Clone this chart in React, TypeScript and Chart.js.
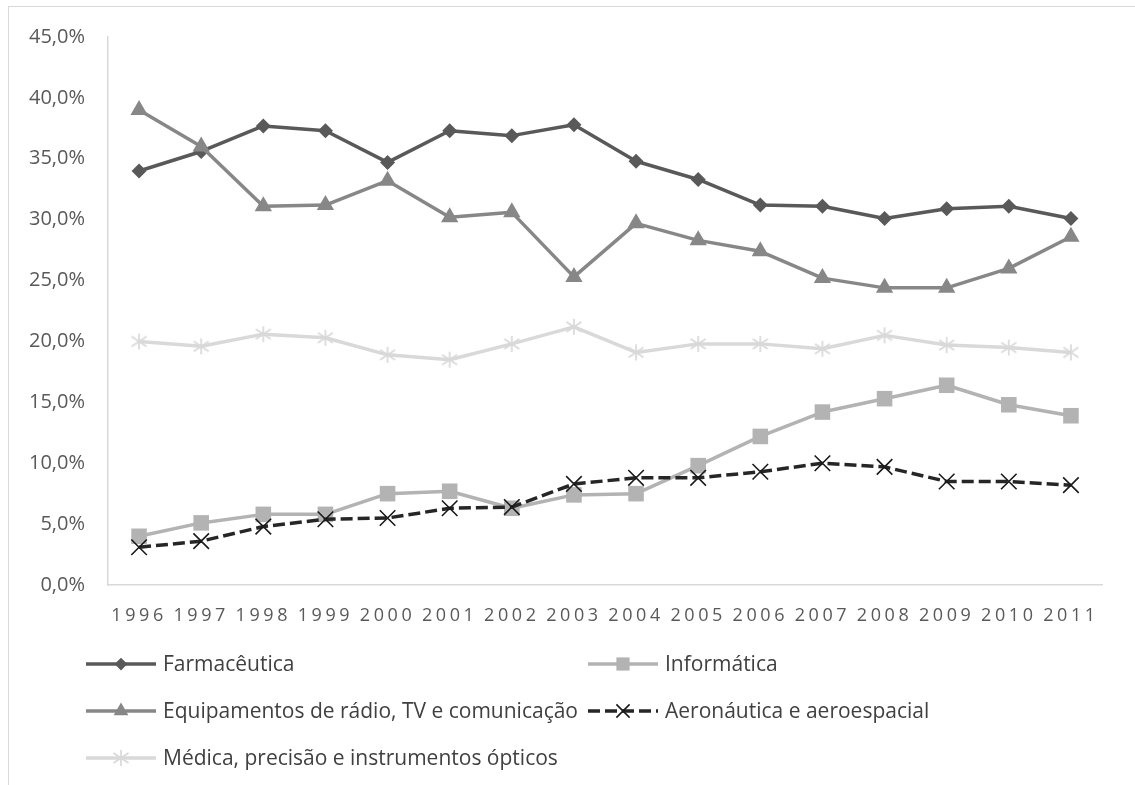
import React, { useEffect, useRef } from "react";
import { Chart, registerables } from "chart.js";
import { drawPoint } from "chart.js/helpers";

Chart.register(...registerables);

const years = ["1996", "1997", "1998", "1999", "2000", "2001", "2002", "2003", "2004", "2005", "2006", "2007", "2008", "2009", "2010", "2011"];

const farmaceutica = [34.0, 35.6, 37.7, 37.3, 34.7, 37.3, 36.9, 37.8, 34.8, 33.3, 31.2, 31.1, 30.1, 30.9, 31.1, 30.1];
const informatica = [4.0, 5.1, 5.8, 5.8, 7.5, 7.7, 6.3, 7.4, 7.5, 9.8, 12.2, 14.2, 15.3, 16.4, 14.8, 13.9];
const equipamentos = [39.0, 36.0, 31.1, 31.2, 33.2, 30.2, 30.6, 25.3, 29.7, 28.3, 27.4, 25.2, 24.4, 24.4, 26.0, 28.6];
const aeronautica = [3.1, 3.6, 4.8, 5.4, 5.5, 6.3, 6.4, 8.3, 8.8, 8.8, 9.3, 10.0, 9.7, 8.5, 8.5, 8.2];
const medica = [20.0, 19.6, 20.6, 20.3, 18.9, 18.5, 19.8, 21.2, 19.1, 19.8, 19.8, 19.4, 20.5, 19.7, 19.5, 19.1];

const seriesNames = [
  "Farmacêutica",
  "Informática",
  "Equipamentos de rádio, TV e comunicação",
  "Aeronáutica e aeroespacial",
  "Médica, precisão e instrumentos ópticos",
];

const yMin = 0;
const yMax = 45;
const yStep = 5;

const FONT = "'Open Sans', 'DejaVu Sans', sans-serif";

function makeAsterisk(color: string): HTMLCanvasElement {
  const c = document.createElement("canvas");
  c.width = 18;
  c.height = 18;
  const g = c.getContext("2d")!;
  g.strokeStyle = color;
  g.lineWidth = 1.7;
  g.beginPath();
  g.moveTo(9, 1);
  g.lineTo(9, 17);
  g.moveTo(1.5, 4);
  g.lineTo(16.5, 14);
  g.moveTo(16.5, 4);
  g.lineTo(1.5, 14);
  g.stroke();
  return c;
}

const legendPlugin = {
  id: "customLegend",
  beforeDraw(chart: any) {
    chart.ctx.letterSpacing = "3.6px";
  },
  beforeDatasetsDraw(chart: any) {
    chart.ctx.letterSpacing = "0px";
  },
  afterDraw(chart: any) {
    const ctx = chart.ctx as CanvasRenderingContext2D;
    ctx.save();
    (ctx as any).letterSpacing = "0px";
    chart.data.datasets.forEach((ds: any, i: number) => {
      const col = i % 2;
      const row = Math.floor(i / 2);
      const x0 = 86 + col * 502;
      const y = 664 + row * 47;
      ctx.save();
      ctx.strokeStyle = ds.borderColor;
      ctx.lineWidth = ds.borderWidth;
      ctx.setLineDash(ds.borderDash || []);
      ctx.lineCap = "butt";
      ctx.beginPath();
      ctx.moveTo(x0, y);
      ctx.lineTo(x0 + 70, y);
      ctx.stroke();
      ctx.setLineDash([]);
      ctx.fillStyle = ds.pointBackgroundColor;
      ctx.strokeStyle = ds.pointBorderColor;
      ctx.lineWidth = ds.pointBorderWidth;
      drawPoint(
        ctx,
        {
          pointStyle: ds.pointStyle,
          radius: ds.pointRadius * 0.85,
          rotation: 0,
          borderWidth: ds.pointBorderWidth,
        } as any,
        x0 + 35,
        y
      );
      ctx.restore();
      ctx.fillStyle = "#404040";
      ctx.font = `21px ${FONT}`;
      ctx.textBaseline = "middle";
      ctx.textAlign = "left";
      ctx.fillText(ds.label, x0 + 77, y + 1);
    });
    ctx.restore();
  },
};

export default function App() {
  const ref = useRef<HTMLCanvasElement | null>(null);

  useEffect(() => {
    if (!ref.current) return;
    const asterisk = makeAsterisk("#d9d9d9");
    const base = {
      borderWidth: 3.5,
      borderJoinStyle: "round" as const,
      tension: 0,
      fill: false,
    };
    const chart = new Chart(ref.current, {
      type: "line",
      data: {
        labels: years,
        datasets: [
          {
            ...base,
            label: seriesNames[0],
            data: farmaceutica,
            borderColor: "#595959",
            backgroundColor: "#595959",
            pointStyle: "rectRot",
            pointRadius: 7.5,
            pointBackgroundColor: "#595959",
            pointBorderColor: "#595959",
            pointBorderWidth: 0,
            order: 5,
          },
          {
            ...base,
            label: seriesNames[1],
            data: informatica,
            borderColor: "#b3b3b3",
            backgroundColor: "#b3b3b3",
            pointStyle: "rect",
            pointRadius: 11,
            pointBackgroundColor: "#b3b3b3",
            pointBorderColor: "#b3b3b3",
            pointBorderWidth: 0,
            order: 4,
          },
          {
            ...base,
            label: seriesNames[2],
            data: equipamentos,
            borderColor: "#878787",
            backgroundColor: "#878787",
            pointStyle: "triangle",
            pointRadius: 10,
            pointBackgroundColor: "#878787",
            pointBorderColor: "#878787",
            pointBorderWidth: 0,
            order: 3,
          },
          {
            ...base,
            label: seriesNames[3],
            data: aeronautica,
            borderColor: "#262626",
            backgroundColor: "#1a1a1a",
            borderDash: [12, 5],
            pointStyle: "crossRot",
            pointRadius: 11,
            pointBackgroundColor: "#1a1a1a",
            pointBorderColor: "#1a1a1a",
            pointBorderWidth: 1.6,
            order: 2,
          },
          {
            ...base,
            label: seriesNames[4],
            data: medica,
            borderColor: "#d9d9d9",
            backgroundColor: "#d9d9d9",
            pointStyle: asterisk as any,
            pointRadius: 9,
            pointBackgroundColor: "#d9d9d9",
            pointBorderColor: "#d9d9d9",
            pointBorderWidth: 0,
            order: 1,
          },
        ],
      },
      options: {
        responsive: false,
        animation: false,
        events: [],
        layout: { padding: { left: 0, top: 37, right: 33, bottom: 160 } },
        plugins: {
          legend: { display: false },
          tooltip: { enabled: false },
        },
        scales: {
          x: {
            type: "category",
            offset: true,
            grid: { display: false, drawTicks: false },
            border: { display: true, color: "#d9d9d9", width: 1.5 },
            ticks: {
              z: 0,
              color: "#595959",
              font: { family: FONT, size: 18 },
              padding: 20,
              maxRotation: 0,
              autoSkip: false,
            },
            afterFit: (s: any) => {
              s.height = 40;
            },
          },
          y: {
            min: yMin,
            max: yMax,
            grid: { display: false, drawTicks: false },
            border: { display: true, color: "#d9d9d9", width: 1.5 },
            ticks: {
              z: 1,
              stepSize: yStep,
              color: "#595959",
              font: { family: FONT, size: 20 },
              padding: 23,
              callback: (v: any) => Number(v).toFixed(1).replace(".", ",") + "%",
            },
            afterFit: (s: any) => {
              s.width = 108;
            },
          },
        },
      },
      plugins: [legendPlugin],
    });
    return () => chart.destroy();
  }, []);

  return (
    <div style={{ position: "absolute", left: 0, top: 0, width: 1135, height: 785, overflow: "hidden", background: "#fff" }}>
      <div
        style={{
          position: "absolute",
          left: 8,
          top: 6,
          width: 1200,
          height: 900,
          borderTop: "1.5px solid #d9d9d9",
          borderLeft: "1.5px solid #d9d9d9",
        }}
      />
      <canvas ref={ref} width={1135} height={785} style={{ position: "absolute", left: 0, top: 0 }} />
    </div>
  );
}
